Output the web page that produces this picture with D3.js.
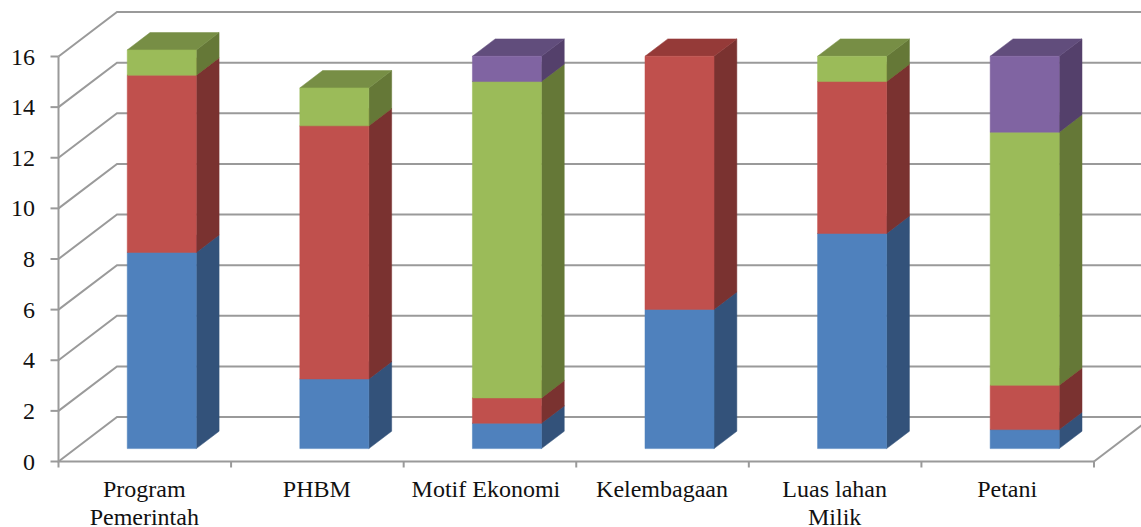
<!DOCTYPE html>
<html>
<head>
<meta charset="utf-8">
<script src="https://cdn.jsdelivr.net/npm/d3@7"></script>
<style>
  html, body { margin: 0; padding: 0; background: #fff; overflow: hidden; }
  text { font-family: "Liberation Serif", serif; fill: #111; }
</style>
</head>
<body>
<svg id="chart" width="1141" height="527"></svg>
<script>
const categories = ["Program Pemerintah", "PHBM", "Motif Ekonomi", "Kelembagaan", "Luas lahan Milik", "Petani"];
const categoryLines = [["Program", "Pemerintah"], ["PHBM"], ["Motif Ekonomi"], ["Kelembagaan"], ["Luas lahan", "Milik"], ["Petani"]];
const seriesA = [7.75, 2.75, 1, 5.5, 8.5, 0.75];
const seriesB = [7, 10, 1, 10, 6, 1.75];
const seriesC = [1, 1.5, 12.5, 0, 1, 10];
const seriesD = [0, 0, 1, 0, 0, 3];
const yTicks = [0, 2, 4, 6, 8, 10, 12, 14, 16];

const seriesList = [seriesA, seriesB, seriesC, seriesD];
const frontColors = ["#4F81BD", "#C0504D", "#9BBB59", "#8064A2"];
const sideColors = ["#33527A", "#7A3230", "#657837", "#54406B"];
const topColors = ["#3D6394", "#953A38", "#778E45", "#614D7C"];

const svg = d3.select("#chart");

// Oblique projection: depth 0 is the front plane, depth 1 the back wall.
const depthDx = 58.5, depthDy = -44.5;
const x = d3.scaleBand().domain(categories).range([58.5, 1094]);
const y = d3.scaleLinear().domain([0, 16]).range([461.5, 56.5]);
const barLeft = 0.3, barRight = 0.7;      // share of the band that a bar spans
const depthStart = 0.29, depthEnd = 0.68; // depth range of a bar
const project = (px, value, depth) => [px + depth * depthDx, y(value) + depth * depthDy];
const xEdges = categories.map(c => x(c)).concat([x.range()[1]]);

const grid = "#9A9A9A";
const rules = svg.append("g").attr("fill", "none").attr("stroke", grid).attr("stroke-width", 2);
const line = d3.line();

// Back wall rules and the matching diagonals on the side wall
yTicks.forEach(t => {
  rules.append("path").attr("d", line([project(x.range()[0], t, 0), project(x.range()[0], t, 1), [1141, y(t) + depthDy]]));
});
// Floor edge on the right
rules.append("path").attr("d", line([project(x.range()[1], 0, 0), project(x.range()[1], 0, 1)]));
// Front axes and their tick marks
rules.append("path").attr("d", line([project(x.range()[0], 16, 0), project(x.range()[0], 0, 0), project(x.range()[1], 0, 0)]));
yTicks.forEach(t => {
  rules.append("path").attr("d", line([[x.range()[0] - 8, y(t)], [x.range()[0], y(t)]]));
});
xEdges.forEach(e => {
  rules.append("path").attr("d", line([[e, y(0)], [e, y(0) + 6]]));
});

// Stacked columns, each segment as front, side and top faces
const poly = pts => "M" + pts.map(p => p.join(",")).join("L") + "Z";
const bars = svg.append("g");
categories.forEach((c, ci) => {
  const bw = x.bandwidth();
  const xl = x(c) + bw * barLeft;
  const xr = x(c) + bw * barRight;
  let base = 0;
  seriesList.forEach((s, si) => {
    const v = s[ci];
    if (!v) return;
    const top = base + v;
    const g = bars.append("g");
    const face = (pts, col) => g.append("path").attr("d", poly(pts)).attr("fill", col).attr("stroke", col).attr("stroke-width", 0.5);
    face([project(xr, base, depthStart), project(xr, base, depthEnd), project(xr, top, depthEnd), project(xr, top, depthStart)], sideColors[si]);
    face([project(xl, top, depthStart), project(xr, top, depthStart), project(xr, top, depthEnd), project(xl, top, depthEnd)], topColors[si]);
    face([project(xl, base, depthStart), project(xr, base, depthStart), project(xr, top, depthStart), project(xl, top, depthStart)], frontColors[si]);
    base = top;
  });
});

// Value labels
svg.append("g").selectAll("text").data(yTicks).join("text")
  .attr("x", 35).attr("y", d => y(d) + 8)
  .attr("text-anchor", "end").attr("font-size", 24)
  .text(d => d);

// Category labels; the long single-line label sits slightly left of its band centre
const labels = svg.append("g").attr("font-size", 24).attr("text-anchor", "middle");
categories.forEach((c, ci) => {
  const nudge = c === "Motif Ekonomi" ? -4 : -0.5;
  categoryLines[ci].forEach((t, li) => {
    labels.append("text")
      .attr("x", x(c) + x.bandwidth() / 2 + nudge)
      .attr("y", 496.5 + li * 28)
      .text(t);
  });
});
</script>
</body>
</html>
